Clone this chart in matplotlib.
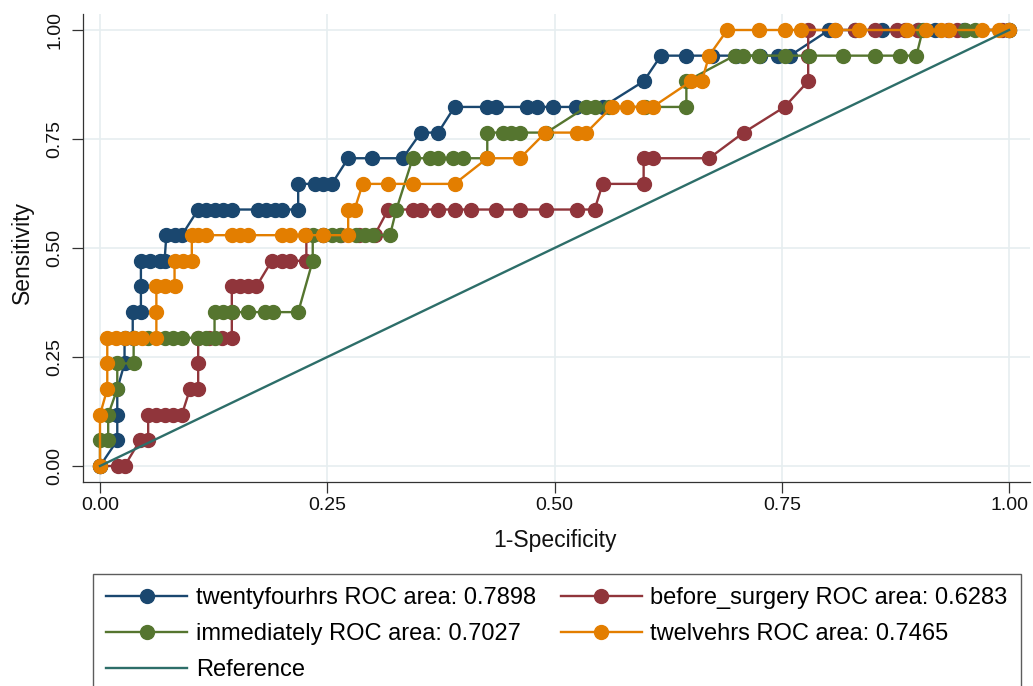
import matplotlib
matplotlib.use("Agg")
import matplotlib.pyplot as plt

plt.rcParams['font.family'] = ['Liberation Sans', 'DejaVu Sans']

N_POS = 17  # sensitivity steps are k/17

# twentyfourhrs
x_24 = [0, 0.019, 0.019, 0.019, 0.027, 0.027, 0.036, 0.036, 0.045, 0.045, 0.045, 0.055, 0.066, 0.071,
        0.073, 0.082, 0.090, 0.108, 0.117, 0.126, 0.135, 0.145, 0.174, 0.183, 0.192, 0.200, 0.218,
        0.218, 0.236, 0.245, 0.255, 0.273, 0.299, 0.333, 0.353, 0.372, 0.390, 0.426, 0.436, 0.470,
        0.481, 0.498, 0.524, 0.553, 0.598, 0.617, 0.645, 0.673, 0.700, 0.726, 0.746, 0.759, 0.802,
        0.830, 0.860, 0.900, 0.918, 0.950, 1.0]
k_24 = [0, 1, 2, 3, 4, 5, 5, 6, 6, 7, 8, 8, 8, 8,
        9, 9, 9, 10, 10, 10, 10, 10, 10, 10, 10, 10, 10,
        11, 11, 11, 11, 12, 12, 12, 13, 13, 14, 14, 14, 14,
        14, 14, 14, 14, 15, 16, 16, 16, 16, 16, 16, 16, 17,
        17, 17, 17, 17, 17, 17]

# before_surgery
x_bs = [0, 0.020, 0.027, 0.044, 0.053, 0.053, 0.062, 0.071, 0.080, 0.090, 0.099, 0.108, 0.108, 0.108,
        0.120, 0.134, 0.145, 0.145, 0.145, 0.154, 0.163, 0.172, 0.189, 0.200, 0.209, 0.227, 0.227,
        0.245, 0.265, 0.285, 0.302, 0.317, 0.344, 0.353, 0.372, 0.390, 0.408, 0.436, 0.462, 0.491,
        0.525, 0.544, 0.553, 0.598, 0.598, 0.608, 0.670, 0.708, 0.753, 0.779, 0.779, 0.779, 0.808,
        0.830, 0.852, 0.877, 0.885, 0.900, 0.933, 0.943, 0.992, 1.0]
k_bs = [0, 0, 0, 1, 1, 2, 2, 2, 2, 2, 3, 3, 4, 5,
        5, 5, 5, 6, 7, 7, 7, 7, 8, 8, 8, 8, 9,
        9, 9, 9, 9, 10, 10, 10, 10, 10, 10, 10, 10, 10,
        10, 10, 11, 11, 12, 12, 12, 13, 14, 15, 16, 17, 17,
        17, 17, 17, 17, 17, 17, 17, 17, 17]

# immediately
x_im = [0, 0, 0.009, 0.009, 0.019, 0.019, 0.037, 0.037, 0.053, 0.071, 0.080, 0.090, 0.108, 0.117,
        0.126, 0.126, 0.135, 0.145, 0.163, 0.181, 0.190, 0.218, 0.234, 0.234, 0.245, 0.255, 0.264,
        0.282, 0.291, 0.300, 0.319, 0.326, 0.344, 0.363, 0.372, 0.388, 0.399, 0.426, 0.426, 0.443,
        0.452, 0.462, 0.491, 0.535, 0.544, 0.560, 0.600, 0.645, 0.645, 0.698, 0.707, 0.725, 0.753,
        0.780, 0.817, 0.853, 0.880, 0.898, 0.905, 0.951, 0.962, 1.0]
k_im = [0, 1, 1, 2, 3, 4, 4, 5, 5, 5, 5, 5, 5, 5,
        5, 6, 6, 6, 6, 6, 6, 6, 8, 9, 9, 9, 9,
        9, 9, 9, 9, 10, 12, 12, 12, 12, 12, 12, 13, 13,
        13, 13, 13, 14, 14, 14, 14, 14, 15, 16, 16, 16, 16,
        16, 16, 16, 16, 16, 17, 17, 17, 17]

# twelvehrs
x_12 = [0, 0, 0.008, 0.008, 0.008, 0.018, 0.027, 0.037, 0.046, 0.062, 0.062, 0.062, 0.071, 0.082,
        0.082, 0.091, 0.101, 0.101, 0.108, 0.117, 0.145, 0.154, 0.163, 0.200, 0.209, 0.225, 0.245,
        0.273, 0.273, 0.280, 0.289, 0.317, 0.344, 0.390, 0.426, 0.462, 0.490, 0.525, 0.535, 0.563,
        0.580, 0.597, 0.608, 0.650, 0.662, 0.670, 0.690, 0.725, 0.753, 0.771, 0.808, 0.835, 0.888,
        0.909, 0.925, 0.934, 0.970, 0.989, 1.0]
k_12 = [0, 2, 3, 4, 5, 5, 5, 5, 5, 5, 6, 7, 7, 7,
        8, 8, 8, 9, 9, 9, 9, 9, 9, 9, 9, 9, 9,
        9, 10, 10, 11, 11, 11, 11, 12, 12, 13, 13, 13, 14,
        14, 14, 14, 15, 15, 16, 17, 17, 17, 17, 17, 17, 17,
        17, 17, 17, 17, 17, 17]

series = [
    ("twentyfourhrs ROC area: 0.7898", x_24, k_24, "#1a476f"),
    ("before_surgery ROC area: 0.6283", x_bs, k_bs, "#90353b"),
    ("immediately ROC area: 0.7027", x_im, k_im, "#55752f"),
    ("twelvehrs ROC area: 0.7465", x_12, k_12, "#e37e00"),
]
ref_label = "Reference"
ref_color = "#2d6e69"
ticks = [0, 0.25, 0.5, 0.75, 1.0]
tick_labels = ["0.00", "0.25", "0.50", "0.75", "1.00"]

W, H = 1033, 686
fig = plt.figure(figsize=(W / 100, H / 100), dpi=100)
L, R, T, B = 83, 1030, 14, 482
ax = fig.add_axes([L / W, (H - B) / H, (R - L) / W, (B - T) / H])

handles = {}
for label, xs, ks, col in series:
    ys = [k / N_POS for k in ks]
    h, = ax.plot(xs, ys, color=col, lw=1.7, marker='o', ms=10, mec=col, mfc=col, label=label)
    handles[label] = h
href, = ax.plot([0, 1], [0, 1], color=ref_color, lw=1.7, label=ref_label)

ax.set_xlim(-0.0187, 1.023)
ax.set_ylim(-0.0367, 1.0367)
ax.set_xticks(ticks)
ax.set_xticklabels(tick_labels)
ax.set_yticks(ticks)
ax.set_yticklabels(tick_labels, rotation=90, va='center')
ax.tick_params(axis='both', direction='out', length=8, width=0.9, color='#333333',
               labelsize=14, labelcolor='#111111')
ax.tick_params(axis='x', pad=3)
ax.tick_params(axis='y', pad=6)
ax.grid(True, color='#e6eef0', lw=1.2)
ax.set_axisbelow(True)
for s in ['top', 'right']:
    ax.spines[s].set_visible(False)
for s in ['left', 'bottom']:
    ax.spines[s].set_color('#333333')
    ax.spines[s].set_linewidth(0.9)

ax.set_xlabel("1-Specificity", fontsize=16.5, color='#111111')
ax.xaxis.label.set_va('center')
ax.xaxis.set_label_coords((555 - L) / (R - L), (B - 541) / (B - T))
ax.set_ylabel("Sensitivity", fontsize=16.5, color='#111111')
ax.yaxis.label.set_va('center')
ax.yaxis.set_label_coords((22 - L) / (R - L), (B - 253) / (B - T))

order = [handles[series[0][0]], handles[series[2][0]], href,
         handles[series[1][0]], handles[series[3][0]]]
leg = fig.legend(handles=order, labels=[h.get_label() for h in order],
                 loc='upper left', bbox_to_anchor=(93 / W, 1 - 574 / H), ncol=2,
                 fontsize=17, frameon=True, fancybox=False, edgecolor='#333333',
                 handlelength=3.45, handletextpad=0.35, columnspacing=1.05,
                 borderpad=0.55, labelspacing=0.6, borderaxespad=0, numpoints=1,
                 markerscale=1.0)
leg.get_frame().set_linewidth(1.0)

fig.savefig("out.png", dpi=100)
